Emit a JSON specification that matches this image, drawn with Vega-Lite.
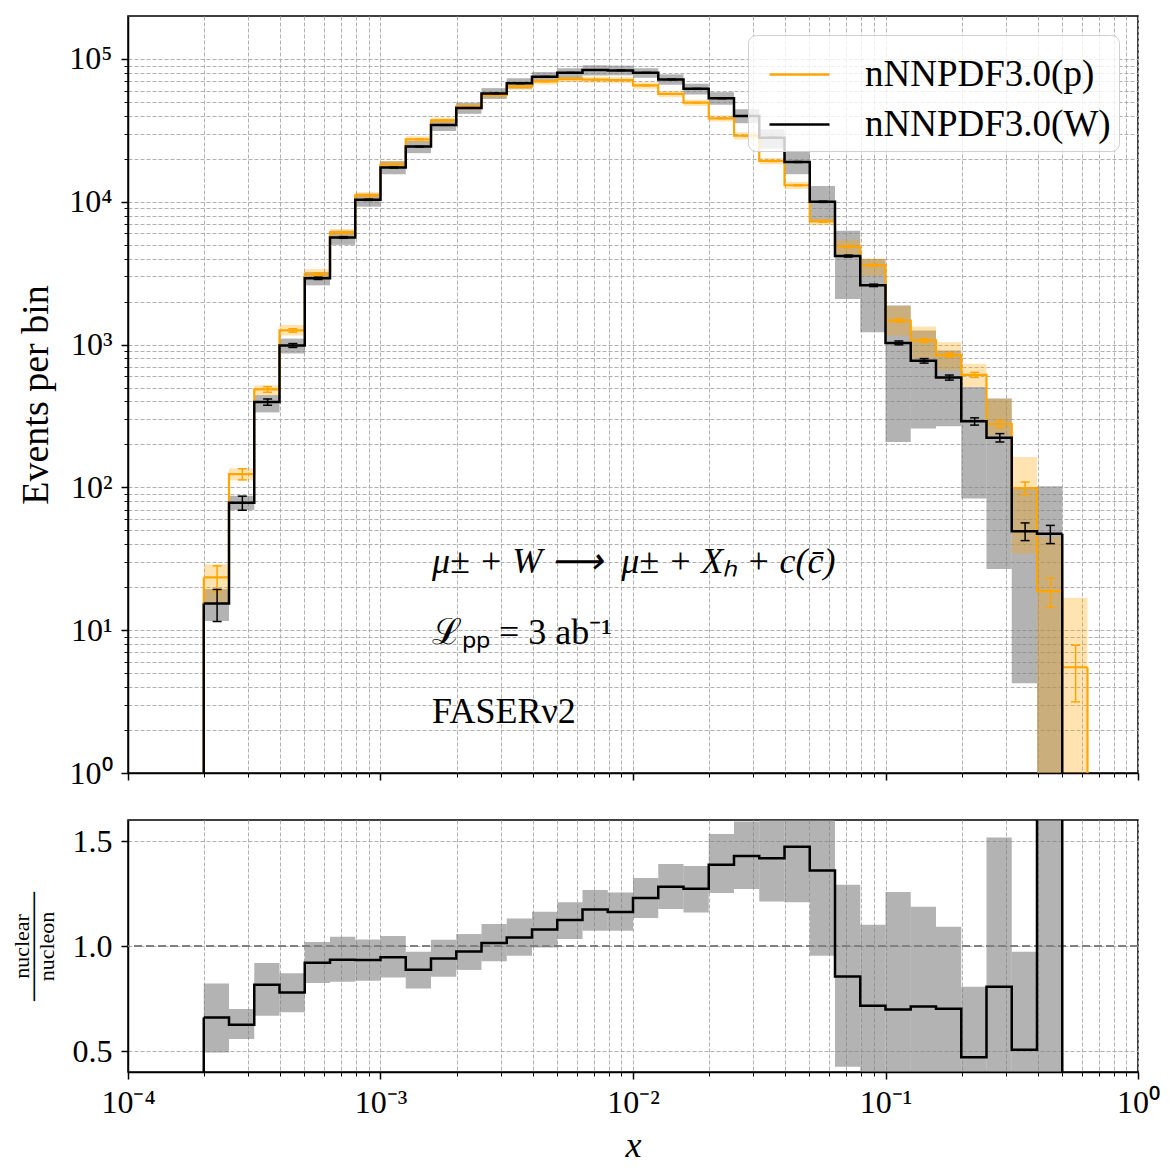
{
  "$schema": "https://vega.github.io/schema/vega-lite/v6.json",
  "padding": {"left": 9, "top": 15, "right": 10, "bottom": 5},
  "background": "white",
  "datasets": {
    "bins": [
      {"i":0,"x0":1.9953e-4,"x1":2.5119e-4,"xc":2.2536e-4,"p":23.4,"p_lo":15.8,"p_hi":29,"pe_lo":18.6,"pe_hi":28.2,"w":15.4,"w_lo":11.6,"w_hi":19.4,"we_lo":11.5,"we_hi":19.3,"r":0.66,"r_lo":0.493,"r_hi":0.822},
      {"i":1,"x0":2.5119e-4,"x1":3.1623e-4,"xc":2.8371e-4,"p":124,"p_lo":112,"p_hi":136,"pe_lo":112.9,"pe_hi":135.1,"w":78,"w_lo":69.5,"w_hi":87.4,"we_lo":69.2,"we_hi":86.8,"r":0.625,"r_lo":0.557,"r_hi":0.70},
      {"i":2,"x0":3.1623e-4,"x1":3.9811e-4,"xc":3.5717e-4,"p":486,"p_lo":441,"p_hi":518,"pe_lo":464,"pe_hi":508,"w":396,"w_lo":335,"w_hi":443,"we_lo":376,"we_hi":416,"r":0.816,"r_lo":0.668,"r_hi":0.919},
      {"i":3,"x0":3.9811e-4,"x1":5.0119e-4,"xc":4.4965e-4,"p":1256,"p_lo":1158,"p_hi":1373,"pe_lo":1221,"pe_hi":1291,"w":986,"w_lo":867,"w_hi":1102,"we_lo":955,"we_hi":1017,"r":0.778,"r_lo":0.684,"r_hi":0.87},
      {"i":4,"x0":5.0119e-4,"x1":6.3096e-4,"xc":5.6607e-4,"p":3120,"p_lo":2877,"p_hi":3380,"pe_lo":3064,"pe_hi":3176,"w":2911,"w_lo":2600,"w_hi":3220,"we_lo":2857,"we_hi":2965,"r":0.92,"r_lo":0.824,"r_hi":1.019},
      {"i":5,"x0":6.3096e-4,"x1":7.9433e-4,"xc":7.1264e-4,"p":6100,"p_lo":5700,"p_hi":6450,"pe_lo":6022,"pe_hi":6178,"w":5627,"w_lo":4995,"w_hi":6283,"we_lo":5552,"we_hi":5702,"r":0.935,"r_lo":0.83,"r_hi":1.044},
      {"i":6,"x0":7.9433e-4,"x1":1e-3,"xc":8.9716e-4,"p":11120,"p_lo":10500,"p_hi":11700,"pe_lo":11015,"pe_hi":11225,"w":10330,"w_lo":9245,"w_hi":11415,"we_lo":10228,"we_hi":10432,"r":0.933,"r_lo":0.835,"r_hi":1.031},
      {"i":7,"x0":1e-3,"x1":1.2589e-3,"xc":1.1295e-3,"p":18320,"p_lo":17300,"p_hi":19300,"pe_lo":18185,"pe_hi":18455,"w":17380,"w_lo":15600,"w_hi":19230,"we_lo":17248,"we_hi":17512,"r":0.947,"r_lo":0.85,"r_hi":1.048},
      {"i":8,"x0":1.2589e-3,"x1":1.5849e-3,"xc":1.4219e-3,"p":27370,"p_lo":25900,"p_hi":28800,"pe_lo":27205,"pe_hi":27535,"w":24340,"w_lo":21900,"w_hi":26700,"we_lo":24184,"we_hi":24496,"r":0.887,"r_lo":0.798,"r_hi":0.973},
      {"i":9,"x0":1.5849e-3,"x1":1.9953e-3,"xc":1.7901e-3,"p":37190,"p_lo":35300,"p_hi":39000,"pe_lo":36997,"pe_hi":37383,"w":34500,"w_lo":31300,"w_hi":37800,"we_lo":34314,"we_hi":34686,"r":0.941,"r_lo":0.854,"r_hi":1.03},
      {"i":10,"x0":1.9953e-3,"x1":2.5119e-3,"xc":2.2536e-3,"p":46360,"p_lo":44000,"p_hi":48700,"pe_lo":46145,"pe_hi":46575,"w":45400,"w_lo":41300,"w_hi":49300,"we_lo":45187,"we_hi":45613,"r":0.974,"r_lo":0.886,"r_hi":1.057},
      {"i":11,"x0":2.5119e-3,"x1":3.1623e-3,"xc":2.8371e-3,"p":55950,"p_lo":53200,"p_hi":58700,"pe_lo":55713,"pe_hi":56187,"w":57400,"w_lo":52500,"w_hi":62500,"we_lo":57160,"we_hi":57640,"r":1.014,"r_lo":0.927,"r_hi":1.105},
      {"i":12,"x0":3.1623e-3,"x1":3.9811e-3,"xc":3.5717e-3,"p":63960,"p_lo":60800,"p_hi":67200,"pe_lo":63707,"pe_hi":64213,"w":67500,"w_lo":61900,"w_hi":73300,"we_lo":67240,"we_hi":67760,"r":1.041,"r_lo":0.954,"r_hi":1.131},
      {"i":13,"x0":3.9811e-3,"x1":5.0119e-3,"xc":4.4965e-3,"p":69650,"p_lo":66200,"p_hi":73100,"pe_lo":69386,"pe_hi":69914,"w":75100,"w_lo":69200,"w_hi":81000,"we_lo":74826,"we_hi":75374,"r":1.078,"r_lo":0.993,"r_hi":1.163},
      {"i":14,"x0":5.0119e-3,"x1":6.3096e-3,"xc":5.6607e-3,"p":72330,"p_lo":68700,"p_hi":75900,"pe_lo":72061,"pe_hi":72599,"w":80100,"w_lo":73600,"w_hi":86100,"we_lo":79817,"we_hi":80383,"r":1.124,"r_lo":1.033,"r_hi":1.208},
      {"i":15,"x0":6.3096e-3,"x1":7.9433e-3,"xc":7.1264e-3,"p":71600,"p_lo":68000,"p_hi":75200,"pe_lo":71332,"pe_hi":71868,"w":83800,"w_lo":76600,"w_hi":90400,"we_lo":83511,"we_hi":84089,"r":1.174,"r_lo":1.073,"r_hi":1.267},
      {"i":16,"x0":7.9433e-3,"x1":1e-2,"xc":8.9716e-3,"p":71200,"p_lo":67600,"p_hi":74800,"pe_lo":70933,"pe_hi":71467,"w":83200,"w_lo":76800,"w_hi":89900,"we_lo":82912,"we_hi":83488,"r":1.162,"r_lo":1.073,"r_hi":1.255},
      {"i":17,"x0":1e-2,"x1":1.2589e-2,"xc":1.1295e-2,"p":65300,"p_lo":62000,"p_hi":68600,"pe_lo":65044,"pe_hi":65556,"w":80100,"w_lo":73800,"w_hi":86300,"we_lo":79817,"we_hi":80383,"r":1.229,"r_lo":1.133,"r_hi":1.324},
      {"i":18,"x0":1.2589e-2,"x1":1.5849e-2,"xc":1.4219e-2,"p":56900,"p_lo":54000,"p_hi":59700,"pe_lo":56661,"pe_hi":57139,"w":71900,"w_lo":66000,"w_hi":78000,"we_lo":71632,"we_hi":72168,"r":1.282,"r_lo":1.176,"r_hi":1.39},
      {"i":19,"x0":1.5849e-2,"x1":1.9953e-2,"xc":1.7901e-2,"p":49400,"p_lo":46900,"p_hi":51900,"pe_lo":49178,"pe_hi":49622,"w":61900,"w_lo":56400,"w_hi":67100,"we_lo":61651,"we_hi":62149,"r":1.273,"r_lo":1.16,"r_hi":1.381},
      {"i":20,"x0":1.9953e-2,"x1":2.5119e-2,"xc":2.2536e-2,"p":38400,"p_lo":36500,"p_hi":40300,"pe_lo":38204,"pe_hi":38596,"w":53000,"w_lo":47800,"w_hi":58600,"we_lo":52770,"we_hi":53230,"r":1.387,"r_lo":1.252,"r_hi":1.533},
      {"i":21,"x0":2.5119e-2,"x1":3.1623e-2,"xc":2.8371e-2,"p":29000,"p_lo":27300,"p_hi":30700,"pe_lo":28830,"pe_hi":29170,"w":39900,"w_lo":35500,"w_hi":44500,"we_lo":39700,"we_hi":40100,"r":1.428,"r_lo":1.271,"r_hi":1.593},
      {"i":22,"x0":3.1623e-2,"x1":3.9811e-2,"xc":3.5717e-2,"p":19300,"p_lo":18300,"p_hi":20300,"pe_lo":19161,"pe_hi":19439,"w":28100,"w_lo":23600,"w_hi":32100,"we_lo":27932,"we_hi":28268,"r":1.418,"r_lo":1.212,"r_hi":1.66},
      {"i":23,"x0":3.9811e-2,"x1":5.0119e-2,"xc":4.4965e-2,"p":13060,"p_lo":12300,"p_hi":13800,"pe_lo":12946,"pe_hi":13174,"w":19000,"w_lo":15600,"w_hi":22700,"we_lo":18862,"we_hi":19138,"r":1.473,"r_lo":1.208,"r_hi":1.74},
      {"i":24,"x0":5.0119e-2,"x1":6.3096e-2,"xc":5.6607e-2,"p":7280,"p_lo":6850,"p_hi":7700,"pe_lo":7195,"pe_hi":7365,"w":10000,"w_lo":7300,"w_hi":12900,"we_lo":9900,"we_hi":10100,"r":1.359,"r_lo":0.954,"r_hi":1.77},
      {"i":25,"x0":6.3096e-2,"x1":7.9433e-2,"xc":7.1264e-2,"p":4850,"p_lo":4300,"p_hi":5420,"pe_lo":4780,"pe_hi":4920,"w":4170,"w_lo":2085,"w_hi":6270,"we_lo":4105,"we_hi":4235,"r":0.855,"r_lo":0.425,"r_hi":1.292},
      {"i":26,"x0":7.9433e-2,"x1":0.1,"xc":8.9716e-2,"p":3600,"p_lo":3040,"p_hi":4020,"pe_lo":3540,"pe_hi":3660,"w":2600,"w_lo":1220,"w_hi":3970,"we_lo":2549,"we_hi":2651,"r":0.716,"r_lo":0.339,"r_hi":1.101},
      {"i":27,"x0":0.1,"x1":0.12589,"xc":0.11295,"p":1473,"p_lo":1157,"p_hi":1854,"pe_lo":1435,"pe_hi":1511,"w":1028,"w_lo":208,"w_hi":1877,"we_lo":996,"we_hi":1060,"r":0.698,"r_lo":0.141,"r_hi":1.257},
      {"i":28,"x0":0.12589,"x1":0.15849,"xc":0.14219,"p":1069,"p_lo":800,"p_hi":1337,"pe_lo":1036,"pe_hi":1102,"w":770,"w_lo":258,"w_hi":1254,"we_lo":742,"we_hi":798,"r":0.712,"r_lo":0.241,"r_hi":1.187},
      {"i":29,"x0":0.15849,"x1":0.19953,"xc":0.17901,"p":845,"p_lo":659,"p_hi":1040,"pe_lo":816,"pe_hi":874,"w":588,"w_lo":268,"w_hi":910,"we_lo":564,"we_hi":612,"r":0.701,"r_lo":0.314,"r_hi":1.092},
      {"i":30,"x0":0.19953,"x1":0.25119,"xc":0.22536,"p":614,"p_lo":504,"p_hi":733,"pe_lo":589,"pe_hi":639,"w":290,"w_lo":83.5,"w_hi":504,"we_lo":273,"we_hi":307,"r":0.47,"r_lo":0.136,"r_hi":0.806},
      {"i":31,"x0":0.25119,"x1":0.31623,"xc":0.28371,"p":278,"p_lo":232,"p_hi":417,"pe_lo":261,"pe_hi":295,"w":223,"w_lo":26.8,"w_hi":420,"we_lo":208,"we_hi":238,"r":0.806,"r_lo":0.096,"r_hi":1.517},
      {"i":32,"x0":0.31623,"x1":0.39811,"xc":0.35717,"p":99,"p_lo":34.5,"p_hi":163,"pe_lo":89,"pe_hi":109,"w":49.4,"w_lo":4.25,"w_hi":98,"we_lo":42.4,"we_hi":56.4,"r":0.506,"r_lo":0.043,"r_hi":0.973},
      {"i":33,"x0":0.39811,"x1":0.50119,"xc":0.44965,"p":18.8,"p_lo":0.5,"p_hi":45,"pe_lo":14.5,"pe_hi":23.1,"w":47.3,"w_lo":0.5,"w_hi":102,"we_lo":40.4,"we_hi":54.2,"r":2.52,"r_lo":0.027,"r_hi":5.4},
      {"i":34,"x0":0.50119,"x1":0.63096,"xc":0.56607,"p":5.5,"p_lo":0.5,"p_hi":16.9,"pe_lo":3.15,"pe_hi":7.85}
    ],
    "notes": [
      {"label":"μ± + W ⟶\u00a0\u00a0μ± + Xₕ + c(c̄)","tx":1.6e-3,"ty":25.3,"it":1},
      {"label":"ℒₚₚ = 3 ab⁻¹","tx":1.6e-3,"ty":8.0,"it":0},
      {"label":"FASERν2","tx":1.6e-3,"ty":2.23,"it":0}
    ]
  },
  "vconcat": [
    {
      "width": 1010,
      "height": 757,
      "data": {"name": "bins"},
      "layer": [
        {
          "transform": [{"filter": "isValid(datum.w)"}],
          "mark": {"type": "rect", "fill": "#808080", "fillOpacity": 0.6, "strokeWidth": 0, "clip": true},
          "encoding": {
            "x": {"field": "x0", "type": "quantitative", "scale": {"type": "log", "domain": [0.0001, 1], "nice": false},
              "axis": {"title": null, "labels": false, "grid": true,
                "values": [0.0001,0.0002,0.0003,0.0004,0.0005,0.0006,0.0007,0.0008,0.0009,0.001,0.002,0.003,0.004,0.005,0.006,0.007,0.008,0.009,0.01,0.02,0.03,0.04,0.05,0.06,0.07,0.08,0.09,0.1,0.2,0.3,0.4,0.5,0.6,0.7,0.8,0.9,1],
                "tickSize": {"condition": {"test": "indexof([0.0001,0.001,0.01,0.1,1], datum.value) >= 0", "value": 7}, "value": 4},
                "tickWidth": {"condition": {"test": "indexof([0.0001,0.001,0.01,0.1,1], datum.value) >= 0", "value": 1.5}, "value": 1}}},
            "x2": {"field": "x1"},
            "y": {"field": "w_lo", "type": "quantitative", "scale": {"type": "log", "domain": [1, 200000], "nice": false},
              "axis": {"title": "Events per bin", "titleFontSize": 38, "grid": true, "titlePadding": 13, "labelPadding": 9,
                "values": [1,2,3,4,5,6,7,8,9,10,20,30,40,50,60,70,80,90,100,200,300,400,500,600,700,800,900,1000,2000,3000,4000,5000,6000,7000,8000,9000,10000,20000,30000,40000,50000,60000,70000,80000,90000,100000],
                "labelExpr": "datum.value == 1 ? '10⁰' : datum.value == 10 ? '10¹' : datum.value == 100 ? '10²' : datum.value == 1000 ? '10³' : datum.value == 10000 ? '10⁴' : datum.value == 100000 ? '10⁵' : ''",
                "tickSize": {"condition": {"test": "indexof([1,10,100,1000,10000,100000], datum.value) >= 0", "value": 7}, "value": 4},
                "tickWidth": {"condition": {"test": "indexof([1,10,100,1000,10000,100000], datum.value) >= 0", "value": 1.5}, "value": 1}}},
            "y2": {"field": "w_hi"}
          }
        },
        {
          "mark": {"type": "rect", "fill": "#FFA500", "fillOpacity": 0.3, "strokeWidth": 0, "clip": true},
          "encoding": {
            "x": {"field": "x0", "type": "quantitative"},
            "x2": {"field": "x1"},
            "y": {"field": "p_lo", "type": "quantitative"},
            "y2": {"field": "p_hi"}
          }
        },
        {
          "transform": [{"fold": ["x0", "x1"], "as": ["edge", "xe"]}],
          "mark": {"type": "line", "strokeWidth": 2.2, "clip": true, "strokeJoin": "miter"},
          "encoding": {
            "x": {"field": "xe", "type": "quantitative"},
            "y": {"field": "p", "type": "quantitative"},
            "order": [{"field": "i", "type": "quantitative"}, {"field": "edge", "type": "ordinal"}],
            "color": {"datum": "nNNPDF3.0(p)", "type": "nominal",
              "scale": {"domain": ["nNNPDF3.0(p)", "nNNPDF3.0(W)"], "range": ["#FFA500", "#000000"]},
              "legend": {"title": null}}
          }
        },
        {
          "transform": [{"filter": "datum.i == 0"}],
          "mark": {"type": "rule", "color": "#FFA500", "strokeWidth": 2.2, "clip": true},
          "encoding": {"x": {"field": "x0", "type": "quantitative"}, "y": {"field": "p", "type": "quantitative"}, "y2": {"datum": 0.5}}
        },
        {
          "transform": [{"filter": "datum.i == 34"}],
          "mark": {"type": "rule", "color": "#FFA500", "strokeWidth": 2.2, "clip": true},
          "encoding": {"x": {"field": "x1", "type": "quantitative"}, "y": {"field": "p", "type": "quantitative"}, "y2": {"datum": 0.5}}
        },
        {
          "mark": {"type": "rule", "color": "#FFA500", "strokeWidth": 1.5, "clip": true},
          "encoding": {"x": {"field": "xc", "type": "quantitative"}, "y": {"field": "pe_lo", "type": "quantitative"}, "y2": {"field": "pe_hi"}}
        },
        {
          "transform": [{"fold": ["pe_lo", "pe_hi"], "as": ["k", "ev"]}],
          "mark": {"type": "tick", "orient": "horizontal", "color": "#FFA500", "size": 9, "thickness": 1.5, "opacity": 1, "clip": true},
          "encoding": {"x": {"field": "xc", "type": "quantitative"}, "y": {"field": "ev", "type": "quantitative"}}
        },
        {
          "transform": [{"filter": "isValid(datum.w)"}, {"fold": ["x0", "x1"], "as": ["edge", "xe"]}],
          "mark": {"type": "line", "strokeWidth": 2.5, "clip": true, "strokeJoin": "miter"},
          "encoding": {
            "x": {"field": "xe", "type": "quantitative"},
            "y": {"field": "w", "type": "quantitative"},
            "order": [{"field": "i", "type": "quantitative"}, {"field": "edge", "type": "ordinal"}],
            "color": {"datum": "nNNPDF3.0(W)", "type": "nominal"}
          }
        },
        {
          "transform": [{"filter": "datum.i == 0"}],
          "mark": {"type": "rule", "color": "#000000", "strokeWidth": 2.5, "clip": true},
          "encoding": {"x": {"field": "x0", "type": "quantitative"}, "y": {"field": "w", "type": "quantitative"}, "y2": {"datum": 0.5}}
        },
        {
          "transform": [{"filter": "datum.i == 33"}],
          "mark": {"type": "rule", "color": "#000000", "strokeWidth": 2.5, "clip": true},
          "encoding": {"x": {"field": "x1", "type": "quantitative"}, "y": {"field": "w", "type": "quantitative"}, "y2": {"datum": 0.5}}
        },
        {
          "transform": [{"filter": "isValid(datum.w)"}],
          "mark": {"type": "rule", "color": "#000000", "strokeWidth": 1.5, "clip": true},
          "encoding": {"x": {"field": "xc", "type": "quantitative"}, "y": {"field": "we_lo", "type": "quantitative"}, "y2": {"field": "we_hi"}}
        },
        {
          "transform": [{"filter": "isValid(datum.w)"}, {"fold": ["we_lo", "we_hi"], "as": ["k", "ev"]}],
          "mark": {"type": "tick", "orient": "horizontal", "color": "#000000", "size": 9, "thickness": 1.5, "opacity": 1, "clip": true},
          "encoding": {"x": {"field": "xc", "type": "quantitative"}, "y": {"field": "ev", "type": "quantitative"}}
        },
        {
          "data": {"name": "notes"},
          "transform": [{"filter": "datum.it == 1"}],
          "mark": {"type": "text", "align": "left", "baseline": "alphabetic", "fontSize": 36, "font": "Liberation Serif", "fontStyle": "italic", "color": "black"},
          "encoding": {"x": {"field": "tx", "type": "quantitative"}, "y": {"field": "ty", "type": "quantitative"}, "text": {"field": "label"}}
        },
        {
          "data": {"name": "notes"},
          "transform": [{"filter": "datum.it == 0"}],
          "mark": {"type": "text", "align": "left", "baseline": "alphabetic", "fontSize": 36, "font": "Liberation Serif", "color": "black"},
          "encoding": {"x": {"field": "tx", "type": "quantitative"}, "y": {"field": "ty", "type": "quantitative"}, "text": {"field": "label"}}
        }
      ]
    },
    {
      "width": 1010,
      "height": 252,
      "data": {"name": "bins"},
      "transform": [{"filter": "isValid(datum.r)"}],
      "layer": [
        {
          "mark": {"type": "rect", "fill": "#808080", "fillOpacity": 0.6, "strokeWidth": 0, "clip": true},
          "encoding": {
            "x": {"field": "x0", "type": "quantitative", "scale": {"type": "log", "domain": [0.0001, 1], "nice": false},
              "axis": {"title": "x", "titleFontStyle": "italic", "titleFontSize": 36, "titlePadding": 10, "labelPadding": 8, "grid": true,
                "values": [0.0001,0.0002,0.0003,0.0004,0.0005,0.0006,0.0007,0.0008,0.0009,0.001,0.002,0.003,0.004,0.005,0.006,0.007,0.008,0.009,0.01,0.02,0.03,0.04,0.05,0.06,0.07,0.08,0.09,0.1,0.2,0.3,0.4,0.5,0.6,0.7,0.8,0.9,1],
                "labelExpr": "datum.value == 0.0001 ? '10⁻⁴' : datum.value == 0.001 ? '10⁻³' : datum.value == 0.01 ? '10⁻²' : datum.value == 0.1 ? '10⁻¹' : datum.value == 1 ? '10⁰' : ''",
                "tickSize": {"condition": {"test": "indexof([0.0001,0.001,0.01,0.1,1], datum.value) >= 0", "value": 7}, "value": 4},
                "tickWidth": {"condition": {"test": "indexof([0.0001,0.001,0.01,0.1,1], datum.value) >= 0", "value": 1.5}, "value": 1}}},
            "x2": {"field": "x1"},
            "y": {"field": "r_lo", "type": "quantitative", "scale": {"domain": [0.4, 1.6], "nice": false, "zero": false},
              "axis": {"title": ["nuclear", "───────", "nucleon"], "titleFontSize": 22, "titleLineHeight": 12.5, "titlePadding": 14, "labelPadding": 9, "grid": true,
                "values": [0.5, 1.0, 1.5], "format": ".1f", "tickSize": 7, "tickWidth": 1.5}},
            "y2": {"field": "r_hi"}
          }
        },
        {
          "mark": {"type": "rule", "color": "#808080", "strokeWidth": 1.5, "strokeDash": [8, 4]},
          "encoding": {"y": {"datum": 1}}
        },
        {
          "transform": [{"fold": ["x0", "x1"], "as": ["edge", "xe"]}],
          "mark": {"type": "line", "strokeWidth": 2.5, "color": "black", "clip": true, "strokeJoin": "miter"},
          "encoding": {
            "x": {"field": "xe", "type": "quantitative"},
            "y": {"field": "r", "type": "quantitative"},
            "order": [{"field": "i", "type": "quantitative"}, {"field": "edge", "type": "ordinal"}]
          }
        },
        {
          "transform": [{"filter": "datum.i == 0"}],
          "mark": {"type": "rule", "color": "#000000", "strokeWidth": 2.5, "clip": true},
          "encoding": {"x": {"field": "x0", "type": "quantitative"}, "y": {"field": "r", "type": "quantitative"}, "y2": {"datum": 0.2}}
        },
        {
          "transform": [{"filter": "datum.i == 33"}],
          "mark": {"type": "rule", "color": "#000000", "strokeWidth": 2.5, "clip": true},
          "encoding": {"x": {"field": "x1", "type": "quantitative"}, "y": {"field": "r", "type": "quantitative"}, "y2": {"datum": 0.2}}
        }
      ]
    }
  ],
  "spacing": 29,
  "config": {
    "font": "Liberation Serif",
    "view": {"stroke": "black", "strokeWidth": 1.5},
    "axis": {"labelFont": "Liberation Serif", "labelFontSize": 32, "labelColor": "black", "titleFont": "Liberation Serif", "titleFontSize": 32, "titleFontWeight": "normal", "titleColor": "black", "domainColor": "black", "domainWidth": 1.5, "tickColor": "black", "gridColor": "#b0b0b0", "gridDash": [4, 2], "gridWidth": 1, "labelFlush": false, "labelOverlap": false, "labelBound": false},
    "legend": {"orient": "top-right", "offset": 19, "labelFont": "Liberation Serif", "labelFontSize": 37, "labelColor": "black", "symbolType": "stroke", "symbolSize": 3600, "symbolStrokeWidth": 2.5, "symbolOffset": 12, "fillColor": "rgba(255,255,255,0.8)", "strokeColor": "#d0d0d0", "cornerRadius": 8, "padding": 8, "rowPadding": -2, "labelOffset": 34, "labelLimit": 500}
  }
}
